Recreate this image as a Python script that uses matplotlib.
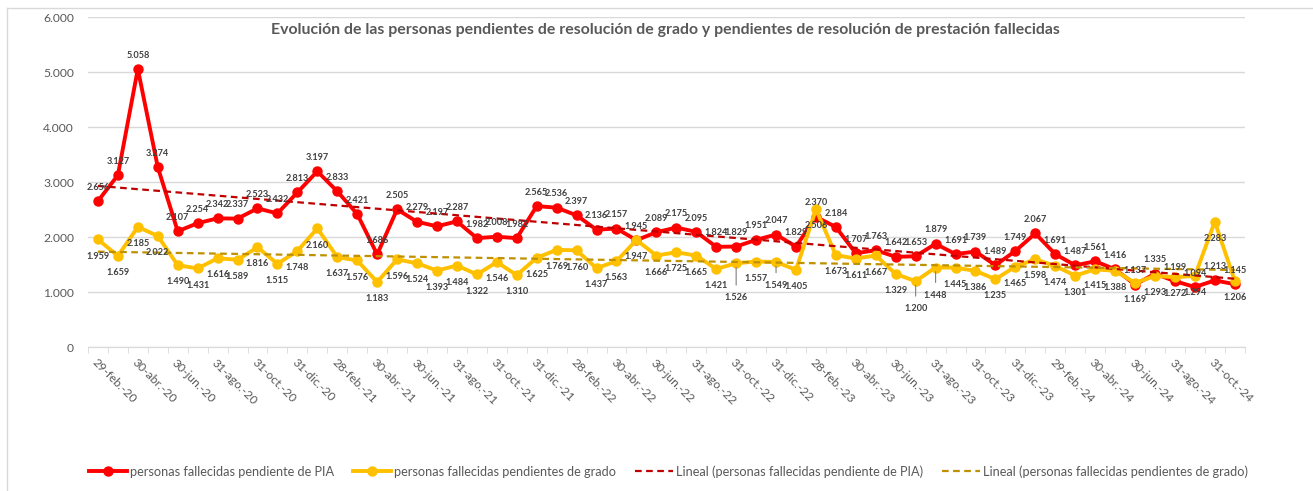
import numpy as np
import matplotlib.pyplot as plt
from matplotlib.lines import Line2D

plt.rcParams['font.family'] = ['Lato', 'DejaVu Sans']

# datos: personas fallecidas (fin de mes, feb-20 .. nov-24)
pia = [2656, 3127, 5058, 3274, 2107, 2254, 2342, 2337, 2523, 2432, 2813, 3197,
       2833, 2421, 1686, 2505, 2279, 2197, 2287, 1982, 2008, 1982, 2565, 2536,
       2397, 2136, 2157, 1945, 2089, 2175, 2095, 1824, 1829, 1951, 2047, 1829,
       2370, 2184, 1707, 1763, 1642, 1653, 1879, 1691, 1739, 1489, 1749, 2067,
       1691, 1487, 1561, 1416, 1137, 1335, 1199, 1094, 1213, 1145]
grado = [1959, 1659, 2185, 2022, 1490, 1431, 1616, 1589, 1816, 1515, 1748, 2160,
         1637, 1576, 1183, 1596, 1524, 1393, 1484, 1322, 1546, 1310, 1625, 1769,
         1760, 1437, 1563, 1947, 1666, 1725, 1665, 1421, 1526, 1557, 1549, 1405,
         2506, 1673, 1611, 1667, 1329, 1200, 1448, 1445, 1386, 1235, 1465, 1598,
         1474, 1301, 1415, 1388, 1169, 1293, 1272, 1294, 2283, 1206]
etiquetas = ['29-feb.-20', '30-abr.-20', '30-jun.-20', '31-ago.-20', '31-oct.-20', '31-dic.-20',
             '28-feb.-21', '30-abr.-21', '30-jun.-21', '31-ago.-21', '31-oct.-21', '31-dic.-21',
             '28-feb.-22', '30-abr.-22', '30-jun.-22', '31-ago.-22', '31-oct.-22', '31-dic.-22',
             '28-feb.-23', '30-abr.-23', '30-jun.-23', '31-ago.-23', '31-oct.-23', '31-dic.-23',
             '29-feb.-24', '30-abr.-24', '30-jun.-24', '31-ago.-24', '31-oct.-24']

x = np.arange(len(pia))

def miles(v):
    return f"{v:,.0f}".replace(',', '.')

fig = plt.figure(figsize=(13.13, 4.91), dpi=100)
ax = fig.add_axes([0.067, 0.293, 0.881, 0.672])

# lineas de tendencia (lineal)
t_pia = np.polyval(np.polyfit(x, pia, 1), x)
t_grado = np.polyval(np.polyfit(x, grado, 1), x)

ax.plot(x, pia, color='#FF0000', lw=2.8, marker='o', ms=6.5, zorder=3,
        label='personas fallecidas pendiente de PIA')
ax.plot(x, grado, color='#FFC000', lw=2.8, marker='o', ms=6.5, zorder=3,
        label='personas fallecidas pendientes de grado')
ax.plot(x, t_pia, color='#C00000', lw=1.6, ls=(0, (3, 2)), zorder=4,
        label='Lineal (personas fallecidas pendiente de PIA)')
ax.plot(x, t_grado, color='#BF9000', lw=1.6, ls=(0, (3, 2)), zorder=4,
        label='Lineal (personas fallecidas pendientes de grado)')

# etiquetas de datos
for i, v in enumerate(pia):
    ax.annotate(miles(v), (i, v), xytext=(0, 10), textcoords='offset points',
                ha='center', va='center', fontsize=6.6, fontweight='bold',
                color='#404040', zorder=5)
especiales = {32: -25, 34: -17, 41: -20, 42: -20}
for i, v in enumerate(grado):
    dy = especiales.get(i, -12)
    kw = {}
    if i in especiales:
        kw['arrowprops'] = dict(arrowstyle='-', color='#7F7F7F', lw=0.8, shrinkA=4, shrinkB=3)
    ax.annotate(miles(v), (i, v), xytext=(0, dy), textcoords='offset points',
                ha='center', va='center', fontsize=6.6, fontweight='bold',
                color='#404040', zorder=5, **kw)

ax.set_ylim(0, 6000)
ax.set_xlim(-0.5, len(pia) - 0.5)
ax.set_yticks(np.arange(0, 6001, 1000))
ax.set_yticklabels([miles(v) for v in np.arange(0, 6001, 1000)])
ax.grid(axis='y', color='#D9D9D9', lw=1)
ax.set_axisbelow(True)
ax.set_xticks(np.arange(0, len(pia), 2))
ax.set_xticklabels(etiquetas, rotation=-45, ha='left', va='top', rotation_mode='anchor')
ax.set_xticks(np.arange(-0.5, len(pia), 1), minor=True)
ax.tick_params(axis='x', which='major', length=0, pad=7, labelsize=8.7, labelcolor='#595959')
ax.tick_params(axis='x', which='minor', length=4, color='#D9D9D9')
ax.tick_params(axis='y', length=0, pad=10, labelsize=8.7, labelcolor='#595959')
for s in ['top', 'right', 'left']:
    ax.spines[s].set_visible(False)
ax.spines['bottom'].set_color('#D9D9D9')

fig.text(0.507, 1 - 30 / 491,
         'Evolución de las personas pendientes de resolución de grado y pendientes de resolución de prestación fallecidas',
         ha='center', va='center', fontsize=11.4, fontweight='bold', color='#595959')

fig.legend(loc='center', bbox_to_anchor=(0.509, 0.04), ncol=4, frameon=False,
           fontsize=9.2, labelcolor='#595959', handlelength=3.0, handletextpad=0.2,
           columnspacing=1.5)

# borde del grafico
fig.add_artist(Line2D([7 / 1313, 7 / 1313], [0, 1 - 8 / 491], color='#D9D9D9', lw=1))
fig.add_artist(Line2D([7 / 1313, 1], [1 - 8 / 491, 1 - 8 / 491], color='#D9D9D9', lw=1))

fig.savefig('out.png', dpi=100)
